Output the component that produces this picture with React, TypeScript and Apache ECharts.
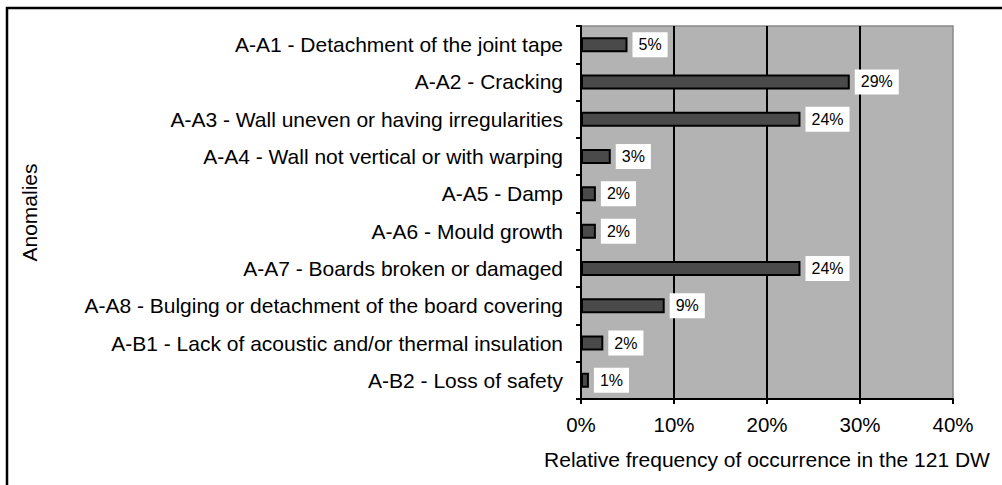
import React, { useRef, useEffect } from 'react';
import * as echarts from 'echarts';

const FONT = '"Liberation Sans", Arial, Helvetica, sans-serif';

const categories = [
  'A-A1 - Detachment of the joint tape',
  'A-A2 - Cracking',
  'A-A3 - Wall uneven or having irregularities',
  'A-A4 - Wall not vertical or with warping',
  'A-A5 - Damp',
  'A-A6 - Mould growth',
  'A-A7 - Boards broken or damaged',
  'A-A8 - Bulging or detachment of the board covering',
  'A-B1 - Lack of acoustic and/or thermal insulation',
  'A-B2 - Loss of safety',
];

const values = [5.0, 28.9, 23.6, 3.2, 1.6, 1.6, 23.6, 9.0, 2.4, 0.85];

const xMin = 0;
const xMax = 40;
const xStep = 10;

const xTitle = 'Relative frequency of occurrence in the 121 DW';
const yTitle = 'Anomalies';

export default function App() {
  const ref = useRef<HTMLDivElement>(null);
  useEffect(() => {
    const chart = echarts.init(ref.current!, null, { renderer: 'svg' });
    chart.setOption({
      animation: false,
      backgroundColor: '#ffffff',
      textStyle: { fontFamily: FONT },
      grid: {
        left: 581,
        right: 49,
        top: 26,
        bottom: 86,
        show: true,
        backgroundColor: '#b3b3b3',
        borderColor: '#8a8a8a',
        borderWidth: 1.5,
      },
      xAxis: {
        type: 'value',
        min: xMin,
        max: xMax,
        interval: xStep,
        name: xTitle,
        nameLocation: 'middle',
        nameGap: 50,
        nameTextStyle: { fontSize: 21, color: '#000', fontFamily: FONT },
        axisLine: { show: true, lineStyle: { color: '#000', width: 2 } },
        axisTick: { show: true, length: 5, lineStyle: { color: '#000', width: 2 } },
        axisLabel: { formatter: '{value}%', fontSize: 20.5, color: '#000', margin: 15, fontFamily: FONT },
        splitLine: {
          show: true,
          showMinLine: false,
          showMaxLine: false,
          lineStyle: { color: '#000', width: 2 },
        },
      },
      yAxis: {
        type: 'category',
        data: categories,
        inverse: true,
        name: yTitle,
        nameLocation: 'middle',
        nameRotate: 90,
        nameGap: 541,
        nameTextStyle: { fontSize: 21, color: '#000', fontFamily: FONT },
        axisLine: { show: true, lineStyle: { color: '#000', width: 2 } },
        axisTick: { show: true, length: 5, lineStyle: { color: '#000', width: 2 } },
        axisLabel: { fontSize: 21, color: '#000', margin: 18, fontFamily: FONT },
        splitLine: { show: false },
      },
      series: [
        {
          type: 'bar',
          data: values,
          barWidth: 15,
          itemStyle: { color: '#4a4a4a', borderColor: '#000', borderWidth: 2 },
          label: {
            show: true,
            position: 'right',
            distance: 5,
            formatter: (p: any) => Math.round(p.value) + '%',
            backgroundColor: '#fff',
            padding: [5, 6, 4, 6],
            fontSize: 16,
            lineHeight: 16,
            color: '#000',
            fontFamily: FONT,
          },
        },
      ],
      graphic: [
        {
          type: 'rect',
          silent: true,
          z: 100,
          shape: { x: 7, y: 8, width: 2000, height: 2000 },
          style: { fill: 'none', stroke: '#000', lineWidth: 2.5 },
        },
      ],
    });
    return () => chart.dispose();
  }, []);
  return (
    <div
      ref={ref}
      style={{ position: 'fixed', left: 0, top: 0, width: 1002, height: 485, background: '#fff' }}
    />
  );
}
